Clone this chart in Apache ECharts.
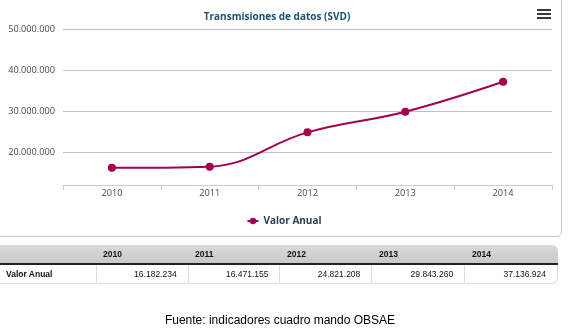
<!DOCTYPE html>
<html>
<head>
<meta charset="utf-8">
<script src="https://cdn.jsdelivr.net/npm/echarts@6/dist/echarts.min.js"></script>
<style>
  html, body { margin: 0; padding: 0; background: #fff; }
  #wrap { position: relative; width: 568px; height: 329px; overflow: hidden; }
  #panel {
    position: absolute; left: -10px; top: -10px; width: 570px; height: 245px;
    border: 1px solid #cccccc; border-radius: 5px; background: #fff;
  }
  #chart { position: absolute; left: 0; top: 0; width: 568px; height: 329px; }
  #table {
    position: absolute; left: 0; top: 245px; width: 558px;
    font-family: "Liberation Sans", Arial, sans-serif; font-size: 8.5px; color: #111;
  }
  .row { display: flex; height: 18px; }
  .row > div { box-sizing: border-box; line-height: 18px; white-space: nowrap; }
  .head { background: linear-gradient(#d9d9d9, #c9c9c9); border-top-right-radius: 6px;
          border-bottom: 2px solid #222; font-weight: bold; }
  .head > div { padding-left: 6px; }
  .data { background: #fff; border-bottom: 1px solid #dcdcdc; border-right: 1px solid #dcdcdc;
          border-bottom-right-radius: 6px; }
  .data > div { text-align: right; padding-right: 11px; border-right: 1px solid #dcdcdc; }
  .data > div:last-child { border-right: none; }
  .data > div.lab { text-align: left; padding-left: 6px; font-weight: bold; }
  #source {
    position: absolute; left: 0; width: 560px; top: 313px; text-align: center;
    font-family: "Liberation Sans", Arial, sans-serif; font-size: 12px; color: #000;
  }
</style>
</head>
<body>
<div id="wrap">
  <div id="panel"></div>
  <div id="chart"></div>
  <div id="table"></div>
  <div id="source">Fuente: indicadores cuadro mando OBSAE</div>
</div>
<script>
// Annual data transmissions (SVD)
const years = ['2010', '2011', '2012', '2013', '2014'];
const valorAnual = [16182234, 16471155, 24821208, 29843260, 37136924];
const yTickValues = [20000000, 30000000, 40000000, 50000000];
const seriesName = 'Valor Anual';
const chartTitle = 'Transmisiones de datos (SVD)';

function fmt(v) {
  return String(v).replace(/\B(?=(\d{3})+(?!\d))/g, '.');
}

const FONT = '"Open Sans", "Noto Sans", sans-serif';
const LINE_COLOR = '#a3004f';
const LABEL_COLOR = '#4a4a4a';

const chart = echarts.init(document.getElementById('chart'), null, { renderer: 'canvas' });
chart.setOption({
  backgroundColor: 'transparent',
  animation: false,
  title: {
    text: chartTitle,
    left: 272,
    textAlign: 'center',
    top: 7,
    textStyle: { color: '#1f4f6e', fontSize: 10, fontWeight: 'bold', fontFamily: FONT }
  },
  legend: {
    data: [seriesName],
    left: 'center',
    top: 211,
    itemWidth: 11,
    itemHeight: 8,
    textStyle: { color: '#2a3f55', fontSize: 10, fontWeight: 'bold', fontFamily: FONT }
  },
  grid: { left: 63, right: 16, top: 29, bottom: 144, containLabel: false },
  xAxis: {
    type: 'category',
    data: years,
    boundaryGap: true,
    axisLine: { lineStyle: { color: '#c0d0e0', width: 1 } },
    axisTick: { show: true, length: 5, lineStyle: { color: '#c0d0e0' } },
    axisLabel: { color: LABEL_COLOR, fontSize: 9.2, fontFamily: FONT, margin: 4 },
    splitLine: { show: false }
  },
  yAxis: {
    type: 'value',
    min: 12000000,
    max: 50000000,
    axisLine: { show: false },
    axisTick: { show: false, customValues: yTickValues },
    axisLabel: {
      customValues: yTickValues,
      color: LABEL_COLOR, fontSize: 9.2, fontFamily: FONT, margin: 8,
      formatter: fmt
    },
    splitLine: { show: true, lineStyle: { color: '#c0c0c0', width: 1 } }
  },
  series: [{
    name: seriesName,
    type: 'line',
    data: valorAnual,
    smooth: 0.4,
    symbol: 'circle',
    symbolSize: 8,
    lineStyle: { color: LINE_COLOR, width: 2 },
    itemStyle: { color: LINE_COLOR }
  }],
  graphic: [
    // export menu icon
    { type: 'rect', shape: { x: 537, y: 9, width: 14, height: 2 }, style: { fill: '#3a3a3a' } },
    { type: 'rect', shape: { x: 537, y: 13, width: 14, height: 2 }, style: { fill: '#3a3a3a' } },
    { type: 'rect', shape: { x: 537, y: 17, width: 14, height: 2 }, style: { fill: '#3a3a3a' } }
  ]
});

// Data table under the chart
const colWidths = [97, 92, 92, 92, 93, 92];
const table = document.getElementById('table');
const head = document.createElement('div');
head.className = 'row head';
const dataRow = document.createElement('div');
dataRow.className = 'row data';
const cellH = document.createElement('div');
cellH.style.width = colWidths[0] + 'px';
head.appendChild(cellH);
const cellL = document.createElement('div');
cellL.className = 'lab';
cellL.style.width = colWidths[0] + 'px';
cellL.textContent = seriesName;
dataRow.appendChild(cellL);
years.forEach((y, i) => {
  const h = document.createElement('div');
  h.style.width = colWidths[i + 1] + 'px';
  h.textContent = y;
  head.appendChild(h);
  const d = document.createElement('div');
  d.style.width = colWidths[i + 1] + 'px';
  d.textContent = fmt(valorAnual[i]);
  dataRow.appendChild(d);
});
table.appendChild(head);
table.appendChild(dataRow);
</script>
</body>
</html>
